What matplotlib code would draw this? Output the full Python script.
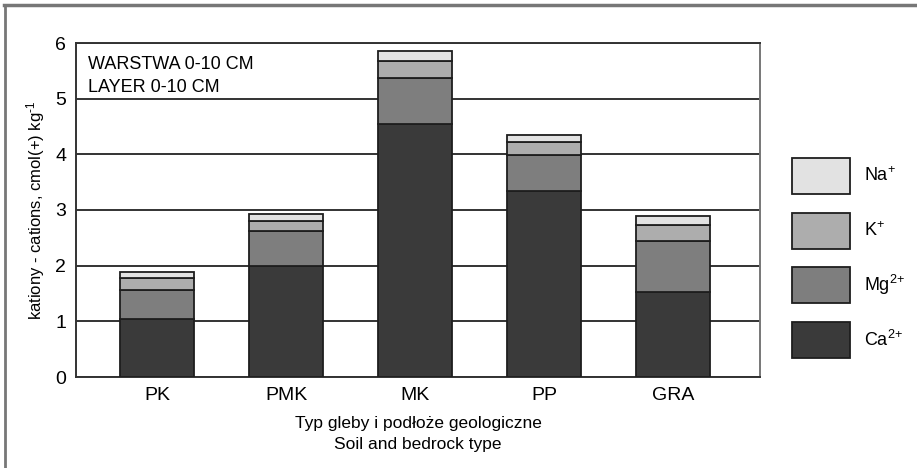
import numpy as np
import matplotlib.pyplot as plt
from matplotlib.patches import Patch
from matplotlib.lines import Line2D

plt.rcParams['font.family'] = ['Liberation Sans', 'DejaVu Sans']
plt.rcParams['mathtext.fontset'] = 'custom'
plt.rcParams['mathtext.rm'] = 'Liberation Sans'
plt.rcParams['mathtext.it'] = 'Liberation Sans'

# Dane: kationy wymienne, warstwa 0-10 cm
typy_gleby = ['PK', 'PMK', 'MK', 'PP', 'GRA']
ca = [1.05, 2.00, 4.55, 3.35, 1.53]
mg = [0.52, 0.62, 0.83, 0.64, 0.92]
k = [0.20, 0.19, 0.30, 0.24, 0.28]
na = [0.11, 0.12, 0.17, 0.11, 0.17]

serie = [ca, mg, k, na]
etykiety = ['Ca$^{2{+}}$', 'Mg$^{2{+}}$', 'K$^{{+}}$', 'Na$^{{+}}$']
kolory = ['#3a3a3a', '#7e7e7e', '#adadad', '#e2e2e2']
krawedz = '#1e1e1e'

fig = plt.figure(figsize=(9.17, 4.68), dpi=100)
ax = fig.add_axes([76 / 917, 1 - 377 / 468, 684 / 917, 334 / 468])

x = np.arange(len(typy_gleby))
dol = np.zeros(len(typy_gleby))
for vals, kol in zip(serie, kolory):
    ax.bar(x, vals, width=0.575, bottom=dol, color=kol, edgecolor=krawedz,
           linewidth=1.3, zorder=3)
    dol += np.array(vals)

ax.set_ylim(0, 6)
ax.set_xlim(-0.628, 4.674)
ax.set_yticks(range(7))
ax.set_xticks(x)
ax.set_xticklabels(typy_gleby)
ax.tick_params(axis='both', length=0, labelsize=14)
ax.tick_params(axis='x', pad=7)
ax.tick_params(axis='y', pad=7)
ax.yaxis.grid(True, color='#333333', linewidth=1.4, zorder=0)
ax.set_axisbelow(True)

for s in ['left', 'bottom', 'top']:
    ax.spines[s].set_color('#333333')
    ax.spines[s].set_linewidth(1.4)
ax.spines['right'].set_color('#777777')
ax.spines['right'].set_linewidth(1.4)

ax.set_ylabel(r'kationy - cations, cmol(+) kg$^{\text{-1}}$', fontsize=12, labelpad=6)
ax.set_xlabel('Typ gleby i podłoże geologiczne\nSoil and bedrock type',
              fontsize=12.5, labelpad=9, linespacing=1.45)

ax.text(0.018, 0.962, 'WARSTWA 0-10 CM\nLAYER 0-10 CM', transform=ax.transAxes,
        ha='left', va='top', fontsize=13, linespacing=1.5)

uchwyty = [Patch(facecolor=kolory[i], edgecolor=krawedz, linewidth=1.3, label=etykiety[i])
           for i in [3, 2, 1, 0]]
fig.legend(handles=uchwyty, loc='center left', bbox_to_anchor=(792 / 917, 1 - 258 / 468),
           frameon=False, fontsize=13, handlelength=3.2, handleheight=2.69,
           labelspacing=1.05, handletextpad=0.8, borderpad=0, borderaxespad=0)

# ramka rysunku
fig.add_artist(Line2D([4 / 917, 1], [1 - 5 / 468, 1 - 5 / 468], color='#777777', linewidth=2.5))
fig.add_artist(Line2D([5 / 917, 5 / 917], [0, 1 - 5 / 468], color='#777777', linewidth=2))

fig.savefig('out.png', dpi=100)
